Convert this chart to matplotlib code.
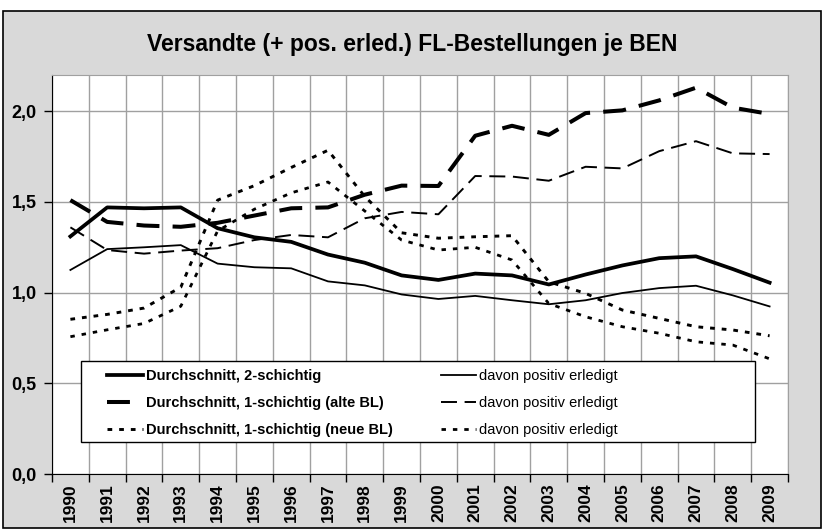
import numpy as np
import matplotlib
matplotlib.use('Agg')
import matplotlib.pyplot as plt
from matplotlib.patches import Rectangle
from matplotlib.ticker import FixedLocator, FuncFormatter, NullFormatter

plt.rcParams['font.family'] = ['Liberation Sans', 'DejaVu Sans']
plt.rcParams['lines.scale_dashes'] = False

# Data
years = list(range(1990, 2010))
avg_2s = [1.31, 1.47, 1.465, 1.47, 1.355, 1.305, 1.28, 1.21, 1.165, 1.095,
          1.07, 1.105, 1.095, 1.045, 1.10, 1.15, 1.19, 1.20, 1.13, 1.055]
pos_2s = [1.125, 1.24, 1.25, 1.262, 1.16, 1.14, 1.134, 1.062, 1.04, 0.99,
          0.965, 0.982, 0.958, 0.936, 0.958, 0.998, 1.025, 1.038, 0.985, 0.924]
avg_1s_alt = [1.51, 1.39, 1.37, 1.363, 1.385, 1.425, 1.465, 1.47, 1.54, 1.59,
              1.588, 1.865, 1.92, 1.87, 1.99, 2.005, 2.06, 2.13, 2.02, 1.985]
pos_1s_alt = [1.36, 1.235, 1.215, 1.232, 1.245, 1.29, 1.318, 1.305, 1.41, 1.445,
              1.432, 1.643, 1.64, 1.617, 1.694, 1.685, 1.78, 1.835, 1.768, 1.764]
avg_1s_neu = [0.853, 0.88, 0.915, 1.03, 1.51, 1.59, 1.69, 1.785, 1.53, 1.33,
              1.30, 1.308, 1.314, 1.06, 0.996, 0.904, 0.858, 0.812, 0.794, 0.762]
pos_1s_neu = [0.757, 0.795, 0.83, 0.925, 1.34, 1.46, 1.55, 1.61, 1.45, 1.29,
              1.235, 1.25, 1.18, 0.94, 0.867, 0.812, 0.776, 0.729, 0.711, 0.635]

labels_avg = ['Durchschnitt, 2-schichtig',
              'Durchschnitt, 1-schichtig (alte BL)',
              'Durchschnitt, 1-schichtig (neue BL)']
label_pos = 'davon positiv erledigt'

W, H = 824, 531
fig = plt.figure(figsize=(W / 100, H / 100), dpi=100)
fig.patch.set_facecolor('white')
# gray chart area with black frame
frame = Rectangle((3 / W, 3 / H), 818 / W, 517 / H, transform=fig.transFigure,
                  facecolor='#d9d9d9', edgecolor='black', lw=1.2, zorder=-5)
fig.patches.append(frame)

ax = fig.add_axes([52 / W, 1 - 474 / H, 736 / W, 399 / H])
ax.set_zorder(1)
ax.set_facecolor('white')

x = np.arange(len(years))
grid_c = '#a0a0a0'

ax.plot(x, pos_2s, color='black', lw=1.3, zorder=3)
ax.plot(x, pos_1s_alt, color='black', lw=1.4, dashes=(11.5, 5.5), zorder=3)
ax.plot(x, pos_1s_neu, color='black', lw=2.0, dashes=(3.2, 5.0), zorder=3)
ax.plot(x, avg_2s, color='black', lw=2.7, zorder=4)
ax.plot(x, avg_1s_alt, color='black', lw=2.9, dashes=(16.5, 9.5), zorder=4)
ax.plot(x, avg_1s_neu, color='black', lw=2.1, dashes=(3.4, 5.0), zorder=4)

ax.set_xlim(-0.5, len(years) - 0.5)
ax.set_ylim(0, 2.2)

ax.xaxis.set_major_locator(FixedLocator(np.arange(-0.5, len(years), 1)))
ax.xaxis.set_major_formatter(NullFormatter())
ax.set_xticks(x, minor=True)
ax.set_xticklabels([str(y) for y in years], minor=True, rotation=90,
                   fontweight='bold', fontsize=12.5)
ax.tick_params(axis='x', which='minor', length=0, pad=7)
ax.tick_params(axis='x', which='major', length=6, width=1, direction='out')

ax.set_yticks([0, 0.5, 1.0, 1.5, 2.0])
ax.yaxis.set_major_formatter(FuncFormatter(lambda v, p: f'{v:.1f}'.replace('.', ',')))
ax.tick_params(axis='y', length=6, width=1, direction='out', pad=5, labelsize=13)
for t in ax.get_yticklabels():
    t.set_fontweight('bold')

ax.grid(axis='x', which='major', color=grid_c, lw=1)
ax.grid(axis='y', color=grid_c, lw=1)
ax.set_axisbelow(True)

for s in ['top', 'right']:
    ax.spines[s].set_color(grid_c)
for s in ['left', 'bottom']:
    ax.spines[s].set_color('black')

fig.text(0.5, 1 - 45 / H, 'Versandte (+ pos. erled.) FL-Bestellungen je BEN',
         ha='center', va='center', fontsize=16.5, fontweight='bold')

# legend box
ax.add_patch(Rectangle((29 / 736, 32 / 399), 674 / 736, 81 / 399, transform=ax.transAxes,
                       facecolor='white', edgecolor='black', lw=1, zorder=5))
lines = ax.get_lines()
handles = [lines[3], lines[4], lines[5], lines[0], lines[1], lines[2]]
leg = ax.legend(handles, labels_avg + [label_pos] * 3, ncol=2, frameon=False,
                loc='upper left', bbox_to_anchor=(55 / 736, 105 / 399),
                borderpad=0, borderaxespad=0, fontsize=10.5,
                handlelength=2.45, handletextpad=0.2, columnspacing=3.3,
                labelspacing=0.9)
leg.set_zorder(6)
for i, t in enumerate(leg.get_texts()):
    if i < 3:
        t.set_fontweight('bold')

fig.savefig('out.png', dpi=100, facecolor=fig.get_facecolor())
